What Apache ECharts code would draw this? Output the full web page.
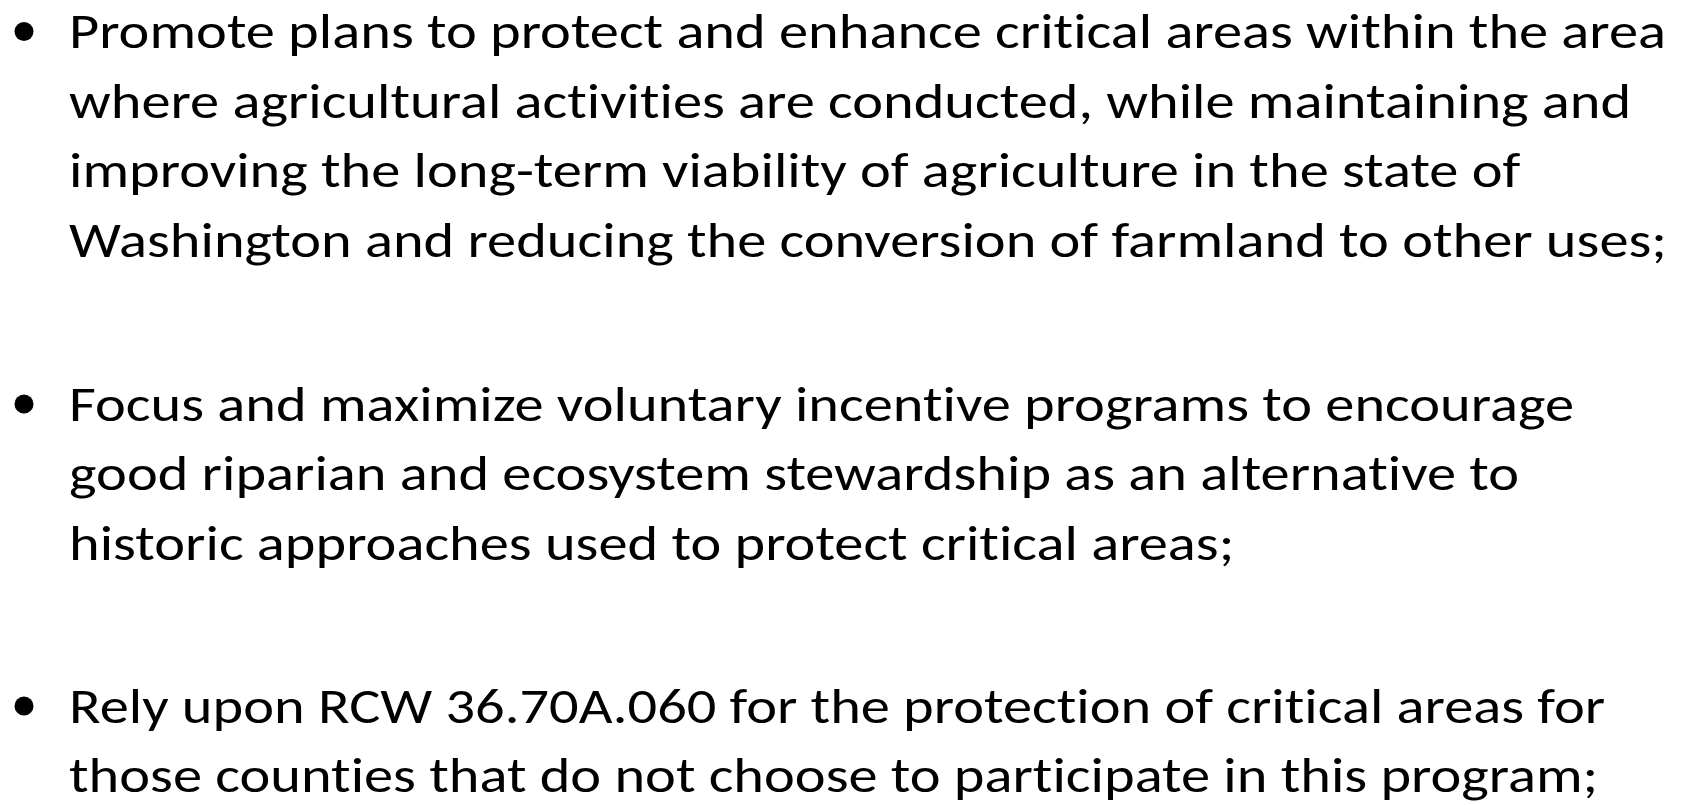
<!DOCTYPE html>
<html>
<head>
<meta charset="utf-8">
<script src="https://cdn.jsdelivr.net/npm/echarts@6/dist/echarts.min.js"></script>
<style>
  html, body { margin: 0; padding: 0; background: #ffffff; }
  #chart { width: 1686px; height: 805px; }
</style>
</head>
<body>
<div id="chart"></div>
<script>
// ---- content (text of the three bullets, one entry per wrapped line) ----
const bullet1Lines = [
  'Promote plans to protect and enhance critical areas within the area',
  'where agricultural activities are conducted, while maintaining and',
  'improving the long-term viability of agriculture in the state of',
  'Washington and reducing the conversion of farmland to other uses;'
];
const bullet2Lines = [
  'Focus and maximize voluntary incentive programs to encourage',
  'good riparian and ecosystem stewardship as an alternative to',
  'historic approaches used to protect critical areas;'
];
const bullet3Lines = [
  'Rely upon RCW 36.70A.060 for the protection of critical areas for',
  'those counties that do not choose to participate in this program;'
];

// ---- layout ----
const FONT_FAMILY = 'Carlito, Lato, "Open Sans", sans-serif';
const FONT_SIZE = 49;
const TEXT_X = 69;
const LINE_STEP = 69.6;
const paragraphFirstBaselines = [49, 421.5, 723.5];
const BULLET_X = 24;
const BULLET_R = 9.5;
const BULLET_ABOVE_BASELINE = 17.5;
const MIDDLE_TO_BASELINE = 13;    // canvas 'middle' line sits this far above the baseline
const FIRST_LINE_TARGET_WIDTH = 1597;

// draw glyphs one by one (no "ti"-style ligatures), as on the original slide
(function () {
  const proto = CanvasRenderingContext2D.prototype;
  function noLig(ctx) {
    if ('textRendering' in ctx) { ctx.textRendering = 'optimizeSpeed'; }
    if ('letterSpacing' in ctx) { ctx.letterSpacing = '0.01px'; }
  }
  ['fillText', 'strokeText', 'measureText'].forEach(function (name) {
    const orig = proto[name];
    proto[name] = function () { noLig(this); return orig.apply(this, arguments); };
  });
})();

const paragraphs = [bullet1Lines, bullet2Lines, bullet3Lines];

const cv = document.createElement('canvas').getContext('2d');
cv.font = FONT_SIZE + 'px ' + FONT_FAMILY;
const scaleX = FIRST_LINE_TARGET_WIDTH / cv.measureText(bullet1Lines[0]).width;

const elements = [];
paragraphs.forEach(function (lines, p) {
  const base0 = paragraphFirstBaselines[p];
  elements.push({
    type: 'circle',
    shape: { cx: BULLET_X, cy: base0 - BULLET_ABOVE_BASELINE, r: BULLET_R },
    style: { fill: '#000000' }
  });
  lines.forEach(function (line, i) {
    elements.push({
      type: 'text',
      x: TEXT_X,
      y: base0 + i * LINE_STEP - MIDDLE_TO_BASELINE,
      scaleX: scaleX,
      style: {
        text: line,
        fontFamily: FONT_FAMILY,
        fontSize: FONT_SIZE,
        fill: '#000000',
        align: 'left',
        verticalAlign: 'middle'
      }
    });
  });
});

const chart = echarts.init(document.getElementById('chart'), null, { renderer: 'canvas' });
chart.setOption({
  backgroundColor: '#ffffff',
  animation: false,
  graphic: { elements: elements }
});
</script>
</body>
</html>
